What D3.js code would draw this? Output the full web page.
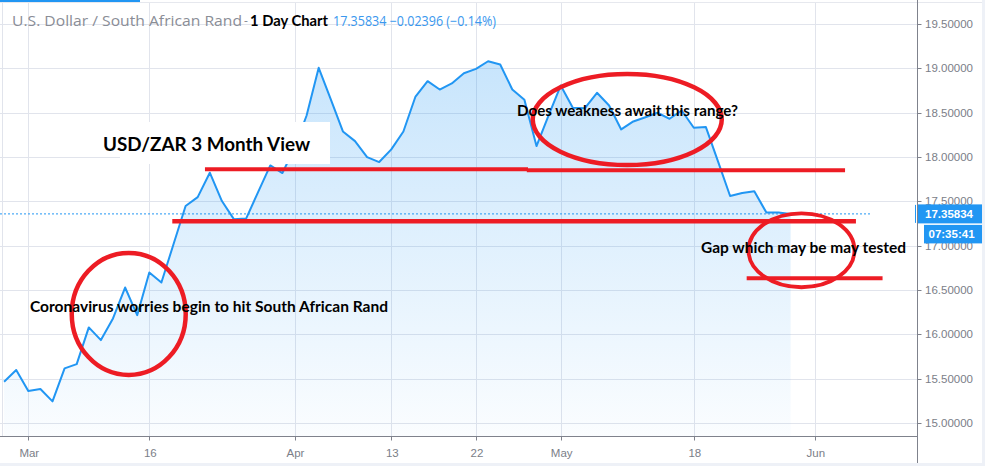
<!DOCTYPE html>
<html>
<head>
<meta charset="utf-8">
<script src="https://cdn.jsdelivr.net/npm/d3@7"></script>
<style>
  html, body { margin: 0; padding: 0; background: #ffffff; }
  svg { display: block; }
</style>
</head>
<body>
<svg id="chart" width="985" height="466"></svg>
<script>
// ---------------- DATA ----------------
const dates = [
  "2020-02-27","2020-02-28",
  "2020-03-02","2020-03-03","2020-03-04","2020-03-05","2020-03-06",
  "2020-03-09","2020-03-10","2020-03-11","2020-03-12","2020-03-13",
  "2020-03-16","2020-03-17","2020-03-18","2020-03-19","2020-03-20",
  "2020-03-23","2020-03-24","2020-03-25","2020-03-26","2020-03-27",
  "2020-03-30","2020-03-31","2020-04-01","2020-04-02","2020-04-03",
  "2020-04-06","2020-04-07","2020-04-08","2020-04-09","2020-04-10",
  "2020-04-13","2020-04-14","2020-04-15","2020-04-16","2020-04-17",
  "2020-04-20","2020-04-21","2020-04-22","2020-04-23","2020-04-24",
  "2020-04-27","2020-04-28","2020-04-29","2020-04-30","2020-05-01",
  "2020-05-04","2020-05-05","2020-05-06","2020-05-07","2020-05-08",
  "2020-05-11","2020-05-12","2020-05-13","2020-05-14","2020-05-15",
  "2020-05-18","2020-05-19","2020-05-20","2020-05-21","2020-05-22",
  "2020-05-25","2020-05-26","2020-05-27","2020-05-28"
];
const closes = [
  15.465, 15.597,
  15.360, 15.383, 15.244, 15.616, 15.664,
  16.078, 15.935, 16.179, 16.528, 16.216,
  16.697, 16.584, 17.016, 17.447, 17.548,
  17.823, 17.503, 17.297, 17.305, 17.607,
  17.905, 17.819, 18.100, 18.468, 19.006,
  18.650, 18.288, 18.179, 17.999, 17.943,
  18.086, 18.288, 18.682, 18.855, 18.761,
  18.830, 18.945, 18.994, 19.080, 19.043,
  18.761, 18.645, 18.123, 18.470, 18.806,
  18.555, 18.550, 18.724, 18.581, 18.311,
  18.401, 18.449, 18.499, 18.431, 18.525,
  18.330, 18.337, 17.950, 17.560, 17.594,
  17.613, 17.373, 17.373, 17.35834
];
const priceTicks = [15.0, 15.5, 16.0, 16.5, 17.0, 17.5, 18.0, 18.5, 19.0, 19.5];
const timeTickDates  = ["2020-03-02","2020-03-16","2020-04-01","2020-04-13","2020-04-22","2020-05-01","2020-05-18","2020-06-01"];
const timeTickLabels = ["Mar","16","Apr","13","22","May","18","Jun"];
const lastPrice = 17.35834;
const lastChange = "\u22120.02396 (\u22120.14%)";
const countdown = "07:35:41";

// hand-drawn annotations (trading-day index, price)
const annoLines = [
  {i0: 16.6, i1: 43.3, v: 17.861, w: 4},
  {i0: 43.2, i1: 69.5, v: 17.850, w: 4},
  {i0: 13.9, i1: 70.4, v: 17.275, w: 4.5},
  {i0: 61.37, i1: 72.6, v: 16.632, w: 4}
];
const annoEllipses = [
  {i: 10.3, v: 16.23, ri: 4.71, rv: 0.688, w: 4.5},
  {i: 51.5, v: 18.423, ri: 7.81, rv: 0.513, w: 4.5},
  {i: 65.9, v: 16.948, ri: 4.38, rv: 0.417, w: 3.8}
];

// ---------------- LAYOUT ----------------
const svg = d3.select("#chart");
const W = 985, H = 466;
const plotRight = 917.5, plotBottom = 436.5;

function tIndex(ds) {
  const k = dates.indexOf(ds);
  if (k >= 0) return k;
  let d = new Date(dates[dates.length - 1] + "T00:00:00Z");
  const target = new Date(ds + "T00:00:00Z");
  let n = dates.length - 1;
  while (d < target) {
    d.setUTCDate(d.getUTCDate() + 1);
    const w = d.getUTCDay();
    if (w !== 0 && w !== 6) n++;
  }
  return n;
}

const x = d3.scaleLinear().domain([0, 67]).range([4.1, 814.8]);
const y = d3.scaleLinear().domain([15, 19.5]).range([423, 24]);

const data = closes.map((c, i) => ({i, c}));

// background strips
svg.append("rect").attr("x", 982).attr("y", 0).attr("width", 3).attr("height", H).attr("fill", "#eef1f7");
svg.append("rect").attr("x", 0).attr("y", 463).attr("width", W).attr("height", 3).attr("fill", "#eef1f7");

// gridlines
const grid = svg.append("g").attr("stroke", "#e1e4ec").attr("stroke-width", 1);
grid.selectAll("line.h").data(priceTicks).join("line")
  .attr("x1", 0).attr("x2", plotRight)
  .attr("y1", d => Math.round(y(d)) + 0.5).attr("y2", d => Math.round(y(d)) + 0.5);
grid.selectAll("line.v").data(timeTickDates).join("line")
  .attr("y1", 3).attr("y2", plotBottom)
  .attr("x1", d => Math.round(x(tIndex(d))) + 0.5).attr("x2", d => Math.round(x(tIndex(d))) + 0.5);
svg.append("line").attr("x1", 2.5).attr("x2", 2.5).attr("y1", 3).attr("y2", plotBottom)
  .attr("stroke", "#e1e4ec");

// top tab bar
svg.append("line").attr("x1", 0).attr("x2", 982).attr("y1", 2.5).attr("y2", 2.5).attr("stroke", "#e6e8ee");
svg.append("rect").attr("x", 0).attr("y", 0).attr("width", 140).attr("height", 2).attr("fill", "#2196f3");

// area gradient
const defs = svg.append("defs");
const grad = defs.append("linearGradient").attr("id", "areaGrad")
  .attr("gradientUnits", "userSpaceOnUse").attr("x1", 0).attr("x2", 0)
  .attr("y1", y(d3.max(closes))).attr("y2", plotBottom);
grad.append("stop").attr("offset", "0%").attr("stop-color", "#2196f3").attr("stop-opacity", 0.25);
grad.append("stop").attr("offset", "100%").attr("stop-color", "#2196f3").attr("stop-opacity", 0.02);

svg.append("path").datum(data)
  .attr("fill", "url(#areaGrad)")
  .attr("d", d3.area().x(d => x(d.i)).y0(plotBottom).y1(d => y(d.c)));

// last price dotted line
svg.append("line")
  .attr("x1", 0).attr("x2", 872)
  .attr("y1", y(lastPrice)).attr("y2", y(lastPrice))
  .attr("stroke", "#2196f3").attr("stroke-width", 1).attr("stroke-dasharray", "2,2");

// price line
svg.append("path").datum(data)
  .attr("fill", "none").attr("stroke", "#2196f3").attr("stroke-width", 2)
  .attr("stroke-linejoin", "round")
  .attr("d", d3.line().x(d => x(d.i)).y(d => y(d.c)));

// axes lines
svg.append("line").attr("x1", 0).attr("x2", plotRight).attr("y1", plotBottom).attr("y2", plotBottom)
  .attr("stroke", "#7f828c").attr("stroke-width", 1);
svg.append("line").attr("x1", plotRight).attr("x2", plotRight).attr("y1", 0).attr("y2", 463)
  .attr("stroke", "#7f828c").attr("stroke-width", 1);

// price axis ticks & labels
const pa = svg.append("g");
pa.selectAll("line").data(priceTicks).join("line")
  .attr("x1", plotRight).attr("x2", plotRight + 4)
  .attr("y1", d => Math.round(y(d)) + 0.5).attr("y2", d => Math.round(y(d)) + 0.5)
  .attr("stroke", "#7f828c");
pa.selectAll("text").data(priceTicks).join("text")
  .attr("x", 925).attr("y", d => y(d)).attr("dy", "0.35em")
  .attr("font-family", "Liberation Sans, Arial, sans-serif").attr("font-size", "11.5px")
  .attr("fill", "#7b7e88")
  .text(d => d3.format(".5f")(d));

// time axis ticks & labels
const ta = svg.append("g");
ta.selectAll("line").data(timeTickDates).join("line")
  .attr("x1", d => Math.round(x(tIndex(d))) + 0.5).attr("x2", d => Math.round(x(tIndex(d))) + 0.5)
  .attr("y1", plotBottom).attr("y2", plotBottom + 4)
  .attr("stroke", "#7f828c");
ta.selectAll("text").data(timeTickDates).join("text")
  .attr("x", d => x(tIndex(d)) + 1).attr("y", 453).attr("dy", "0.35em")
  .attr("text-anchor", "middle")
  .attr("font-family", "Liberation Sans, Arial, sans-serif").attr("font-size", "11.5px")
  .attr("fill", "#7b7e88")
  .text((d, k) => timeTickLabels[k]);

// last price label boxes
const ly = y(lastPrice);
svg.append("line").attr("x1", 915.5).attr("x2", 915.5).attr("y1", ly - 9).attr("y2", ly + 9)
  .attr("stroke", "#2196f3");
svg.append("rect").attr("x", 918).attr("y", ly - 9.5).attr("width", 64).attr("height", 19).attr("fill", "#2196f3");
svg.append("text").attr("x", 925).attr("y", ly).attr("dy", "0.36em")
  .attr("font-family", "Liberation Sans, Arial, sans-serif").attr("font-size", "11.5px").attr("font-weight", "bold")
  .attr("fill", "#ffffff").text(d3.format(".5f")(lastPrice));
svg.append("rect").attr("x", 924).attr("y", ly + 11).attr("width", 58).attr("height", 18.5).attr("fill", "#2196f3");
svg.append("text").attr("x", 928.5).attr("y", ly + 20.3).attr("dy", "0.36em")
  .attr("font-family", "Liberation Sans, Arial, sans-serif").attr("font-size", "11.5px").attr("font-weight", "bold")
  .attr("fill", "#ffffff").text(countdown);

// title
function fitText(sel, target) {
  const w = sel.node().getComputedTextLength();
  if (w > 0) sel.attr("textLength", target).attr("lengthAdjust", "spacingAndGlyphs");
  return sel;
}
const t1 = svg.append("text").attr("x", 12).attr("y", 26)
  .attr("font-family", "Open Sans, Liberation Sans, sans-serif").attr("font-size", "14px")
  .attr("fill", "#8a8d96").text("U.S. Dollar / South African Rand");
fitText(t1, 230);
svg.append("text").attr("x", 244).attr("y", 25)
  .attr("font-family", "Open Sans, sans-serif").attr("font-size", "12px").attr("fill", "#8a8d96").text("-");
const t2 = svg.append("text").attr("x", 250).attr("y", 26)
  .attr("font-family", "Lato, Open Sans, sans-serif").attr("font-size", "14.5px").attr("font-weight", "bold")
  .attr("fill", "#000000").text("1 Day Chart");
fitText(t2, 78);
const t3 = svg.append("text").attr("x", 333).attr("y", 26)
  .attr("font-family", "Open Sans, Liberation Sans, sans-serif").attr("font-size", "14px")
  .attr("fill", "#3b98ee").text(d3.format(".5f")(lastPrice) + " " + lastChange);
fitText(t3, 163);

// annotation: white box with heading
svg.append("rect").attr("x", 120).attr("y", 122).attr("width", 210).attr("height", 42).attr("fill", "#ffffff");
const h1 = svg.append("text").attr("x", 103).attr("y", 150.5)
  .attr("font-family", "Lato, Open Sans, sans-serif").attr("font-size", "19.5px").attr("font-weight", "bold")
  .attr("fill", "#000000").text("USD/ZAR 3 Month View");
fitText(h1, 207);

// red lines
svg.append("g").selectAll("line").data(annoLines).join("line")
  .attr("x1", d => x(d.i0)).attr("x2", d => x(d.i1))
  .attr("y1", d => y(d.v)).attr("y2", d => y(d.v))
  .attr("stroke", "#ed1c24").attr("stroke-width", d => d.w);

// red ellipses
svg.append("g").selectAll("ellipse").data(annoEllipses).join("ellipse")
  .attr("cx", d => x(d.i)).attr("cy", d => y(d.v))
  .attr("rx", d => x(d.i + d.ri) - x(d.i)).attr("ry", d => y(d.v - d.rv) - y(d.v))
  .attr("fill", "none").attr("stroke", "#ed1c24").attr("stroke-width", d => d.w);

// annotation texts
const notes = [
  {t: "Coronavirus worries begin to hit South African Rand", x: 30, y: 311.5, w: 358},
  {t: "Does weakness await this range?", x: 517, y: 115.5, w: 221},
  {t: "Gap which may be may tested", x: 701, y: 252.5, w: 205}
];
notes.forEach(n => {
  const s = svg.append("text").attr("x", n.x).attr("y", n.y)
    .attr("font-family", "Lato, Open Sans, sans-serif").attr("font-size", "15px").attr("font-weight", "bold")
    .attr("fill", "#000000").text(n.t);
  fitText(s, n.w);
});
</script>
</body>
</html>
